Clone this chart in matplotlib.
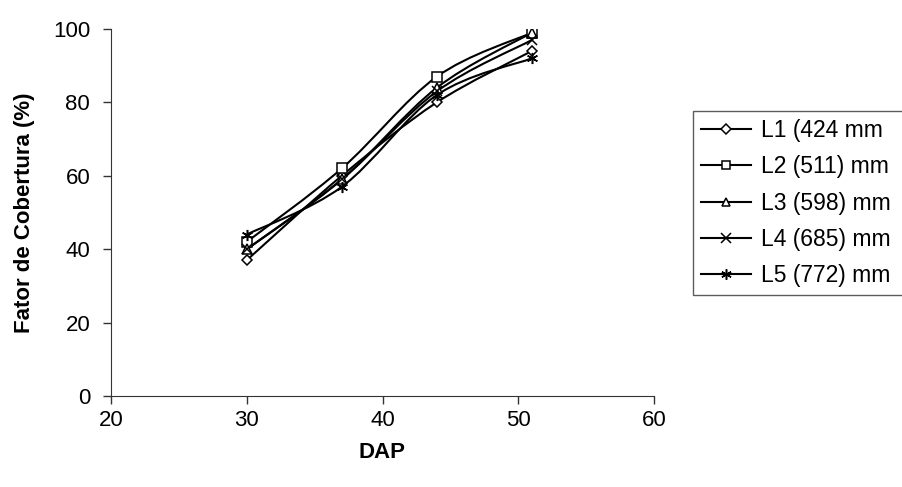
import matplotlib.pyplot as plt
from matplotlib.path import Path
from matplotlib.patches import PathPatch
from matplotlib.lines import Line2D

plt.rcParams['font.family'] = ['Liberation Sans', 'DejaVu Sans']

dap = [30, 37, 44, 51]
l1 = [37, 60, 80, 94]
l2 = [42, 62, 87, 99]
l3 = [40, 59, 84, 99]
l4 = [40, 59, 83, 97]
l5 = [44, 57, 82, 92]
labels = ['L1 (424 mm', 'L2 (511) mm', 'L3 (598) mm', 'L4 (685) mm', 'L5 (772) mm']
markers = ['D', 's', '^', 'x', (6, 2, 0)]
sizes = [5.5, 6.5, 6.5, 7, 8]


def smooth_path(x, y, t=1/6):
    # bezier through the points, like Excel's smoothed line
    verts = [(x[0], y[0])]
    codes = [Path.MOVETO]
    n = len(x)
    for i in range(n - 1):
        x0, y0 = (x[i - 1], y[i - 1]) if i > 0 else (x[i], y[i])
        x3, y3 = (x[i + 2], y[i + 2]) if i + 2 < n else (x[i + 1], y[i + 1])
        c1 = (x[i] + (x[i + 1] - x0) * t, y[i] + (y[i + 1] - y0) * t)
        c2 = (x[i + 1] - (x3 - x[i]) * t, y[i + 1] - (y3 - y[i]) * t)
        verts += [c1, c2, (x[i + 1], y[i + 1])]
        codes += [Path.CURVE4] * 3
    return Path(verts, codes)


fig = plt.figure(figsize=(9.03, 4.87), dpi=100)
ax = fig.add_axes([111 / 903, 1 - 396 / 487, 543 / 903, 367 / 487])

handles = []
for ys, lab, m, ms in zip([l1, l2, l3, l4, l5], labels, markers, sizes):
    ax.add_patch(PathPatch(smooth_path(dap, ys), fill=False, edgecolor='black', lw=1.5))
    ax.plot(dap, ys, linestyle='none', marker=m, ms=ms, mfc='white', mec='black', mew=1.1)
    handles.append(Line2D([], [], color='black', lw=1.5, marker=m, ms=ms - 0.5,
                          mfc='white', mec='black', mew=1.1, label=lab))

ax.set_xlim(20, 60)
ax.set_ylim(0, 100)
ax.set_xticks([20, 30, 40, 50, 60])
ax.set_yticks([0, 20, 40, 60, 80, 100])
ax.spines['top'].set_visible(False)
ax.spines['right'].set_visible(False)
ax.spines['left'].set_color('#333333')
ax.spines['bottom'].set_color('#333333')
ax.tick_params(direction='out', length=6, labelsize=16, width=1, color='#333333')
ax.tick_params(axis='x', pad=4)
ax.tick_params(axis='y', pad=9)
ax.set_xlabel('DAP', fontsize=16, fontweight='bold', labelpad=8)
ax.set_ylabel('Fator de Cobertura (%)', fontsize=16, fontweight='bold', labelpad=13)

# box runs past the right edge of the figure, as in the original
leg = fig.legend(handles=handles, loc='upper left',
                 bbox_to_anchor=(693 / 903, 1 - 111 / 487, 230 / 903, 0), mode='expand',
                 fontsize=16.5, frameon=True, fancybox=False, edgecolor='#333333',
                 handlelength=2.2, handletextpad=0.4, labelspacing=0.58, borderpad=0.35,
                 borderaxespad=0)
leg.get_frame().set_linewidth(1.0)

fig.savefig('out.png', dpi=100)
